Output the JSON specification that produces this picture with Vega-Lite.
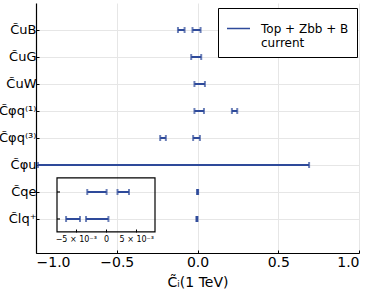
{
  "$schema": "https://vega.github.io/schema/vega-lite/v6.json",
  "width": 323,
  "height": 250,
  "autosize": {"type": "none"},
  "padding": {"left": 36, "top": 3, "right": 15, "bottom": 46},
  "background": "white",
  "config": {
    "font": "DejaVu Sans",
    "view": {"stroke": null},
    "axis": {"gridColor": "#e6e6e6", "gridWidth": 1, "domainColor": "black", "tickColor": "black", "labelColor": "black", "titleColor": "black"},
    "axisY": {"labelOverlap": false, "labelBound": false, "labelFlush": false}
  },
  "datasets": {
    "main": [
      {"coef": "uB", "row": 8, "lo": -0.121, "hi": -0.080, "series": "Top + Zbb + B current"},
      {"coef": "uB", "row": 8, "lo": -0.031, "hi": 0.019, "series": "Top + Zbb + B current"},
      {"coef": "uG", "row": 7, "lo": -0.039, "hi": 0.023, "series": "Top + Zbb + B current"},
      {"coef": "uW", "row": 6, "lo": -0.019, "hi": 0.046, "series": "Top + Zbb + B current"},
      {"coef": "phiq1", "row": 5, "lo": -0.019, "hi": 0.040, "series": "Top + Zbb + B current"},
      {"coef": "phiq1", "row": 5, "lo": 0.213, "hi": 0.246, "series": "Top + Zbb + B current"},
      {"coef": "phiq3", "row": 4, "lo": -0.231, "hi": -0.196, "series": "Top + Zbb + B current"},
      {"coef": "phiq3", "row": 4, "lo": -0.027, "hi": 0.015, "series": "Top + Zbb + B current"},
      {"coef": "phiu", "row": 3, "lo": -0.988, "hi": 0.691, "series": "Top + Zbb + B current"},
      {"coef": "qe", "row": 2, "lo": -0.0031, "hi": 0.0001, "series": "Top + Zbb + B current"},
      {"coef": "qe", "row": 2, "lo": 0.0019, "hi": 0.0038, "series": "Top + Zbb + B current"},
      {"coef": "lq+", "row": 1, "lo": -0.0066, "hi": -0.0043, "series": "Top + Zbb + B current"},
      {"coef": "lq+", "row": 1, "lo": -0.0033, "hi": 0.0004, "series": "Top + Zbb + B current"}
    ],
    "inset": [
      {"coef": "qe", "row": 2, "lo": -0.0031, "hi": 0.0001},
      {"coef": "qe", "row": 2, "lo": 0.0019, "hi": 0.0038},
      {"coef": "lq+", "row": 1, "lo": -0.0066, "hi": -0.0043},
      {"coef": "lq+", "row": 1, "lo": -0.0033, "hi": 0.0004}
    ]
  },
  "layer": [
    {
      "data": {"name": "main"},
      "encoding": {
        "y": {
          "field": "row", "type": "quantitative",
          "scale": {"domain": [-0.26, 9], "nice": false, "zero": false},
          "axis": {
            "values": [1, 2, 3, 4, 5, 6, 7, 8],
            "labelExpr": "['', 'C̃lq⁺', 'C̃qe', 'C̃φu', 'C̃φq⁽³⁾', 'C̃φq⁽¹⁾', 'C̃uW', 'C̃uG', 'C̃uB'][datum.value]",
            "labelFontSize": 13, "labelPadding": 3, "tickSize": -3, "title": null,
            "labelOverlap": false, "labelBound": false, "labelFlush": false,
            "domainWidth": 1.2, "grid": true
          }
        }
      },
      "layer": [
        {
          "mark": {"type": "rule", "strokeWidth": 2},
          "encoding": {
            "x": {
              "field": "lo", "type": "quantitative",
              "scale": {"domain": [-1, 1], "nice": false, "zero": false},
              "axis": {
                "orient": "bottom",
                "values": [-1, -0.5, 0, 0.5, 1], "format": ".1f",
                "labelFontSize": 14, "labelPadding": 5, "tickSize": -3,
                "title": "C̃ᵢ(1 TeV)", "titleFontSize": 14, "titleFontWeight": "normal", "titlePadding": 6,
                "domainWidth": 1.2, "grid": true
              }
            },
            "x2": {"field": "hi"},
            "color": {
              "field": "series", "type": "nominal",
              "scale": {"range": ["#2e4a9a"]},
              "legend": {
                "orient": "none", "legendX": 182, "legendY": 5, "title": null,
                "fillColor": "white", "strokeColor": "black", "padding": 8,
                "symbolType": "stroke", "symbolSize": 529, "symbolStrokeWidth": 1.5,
                "labelFontSize": 12, "labelOffset": 10,
                "labelExpr": "['Top + Zbb + B', 'current']"
              }
            }
          }
        },
        {
          "mark": {"type": "tick", "orient": "vertical", "size": 6, "thickness": 2, "color": "#2e4a9a"},
          "encoding": {"x": {"field": "lo", "type": "quantitative"}}
        },
        {
          "mark": {"type": "tick", "orient": "vertical", "size": 6, "thickness": 2, "color": "#2e4a9a"},
          "encoding": {"x": {"field": "hi", "type": "quantitative"}}
        }
      ]
    },
    {
      "data": {"name": "inset"},
      "layer": [
        {
          "data": {"values": [{"box": "inset"}]},
          "mark": {"type": "rect", "fill": null, "stroke": "black", "strokeWidth": 1.2},
          "encoding": {
            "x": {
              "datum": -0.0081, "type": "quantitative",
              "scale": {"domain": [-0.0081, 0.0081], "range": [21, 119], "nice": false, "zero": false},
              "axis": {
                "orient": "bottom",
                "values": [-0.005, 0, 0.005],
                "labelExpr": "datum.value < 0 ? '−5 × 10⁻³' : (datum.value > 0 ? '5 × 10⁻³' : '0')",
                "labelFontSize": 8, "labelPadding": 6, "tickSize": -3, "offset": -21,
                "domain": false, "grid": false, "title": null
              }
            },
            "x2": {"datum": 0.0081},
            "y": {
              "datum": 0.52, "type": "quantitative",
              "axis": {
                "values": [1, 2, 3, 4, 5, 6, 7, 8],
                "labelExpr": "['', 'C̃lq⁺', 'C̃qe', 'C̃φu', 'C̃φq⁽³⁾', 'C̃φq⁽¹⁾', 'C̃uW', 'C̃uG', 'C̃uB'][datum.value]",
                "labelFontSize": 13, "labelPadding": 3, "tickSize": -3, "title": null,
                "labelOverlap": false, "labelBound": false, "labelFlush": false,
                "domainWidth": 1.2, "grid": true
              }
            },
            "y2": {"datum": 2.52}
          }
        },
        {
          "encoding": {
            "y": {
              "field": "row", "type": "quantitative",
              "axis": {
                "values": [1, 2, 3, 4, 5, 6, 7, 8],
                "labelExpr": "['', 'C̃lq⁺', 'C̃qe', 'C̃φu', 'C̃φq⁽³⁾', 'C̃φq⁽¹⁾', 'C̃uW', 'C̃uG', 'C̃uB'][datum.value]",
                "labelFontSize": 13, "labelPadding": 3, "tickSize": -3, "title": null,
                "labelOverlap": false, "labelBound": false, "labelFlush": false,
                "domainWidth": 1.2, "grid": true
              }
            }
          },
          "layer": [
            {
              "mark": {"type": "tick", "orient": "horizontal", "size": 3, "thickness": 1, "color": "black", "xOffset": 1.5},
              "encoding": {"x": {"datum": -0.0081, "type": "quantitative"}}
            },
            {
              "mark": {"type": "rule", "strokeWidth": 2, "color": "#2e4a9a"},
              "encoding": {
                "x": {"field": "lo", "type": "quantitative"},
                "x2": {"field": "hi"}
              }
            },
            {
              "mark": {"type": "tick", "orient": "vertical", "size": 6, "thickness": 2, "color": "#2e4a9a"},
              "encoding": {"x": {"field": "lo", "type": "quantitative"}}
            },
            {
              "mark": {"type": "tick", "orient": "vertical", "size": 6, "thickness": 2, "color": "#2e4a9a"},
              "encoding": {"x": {"field": "hi", "type": "quantitative"}}
            }
          ]
        }
      ]
    }
  ],
  "resolve": {"scale": {"x": "independent"}, "axis": {"x": "independent"}}
}
